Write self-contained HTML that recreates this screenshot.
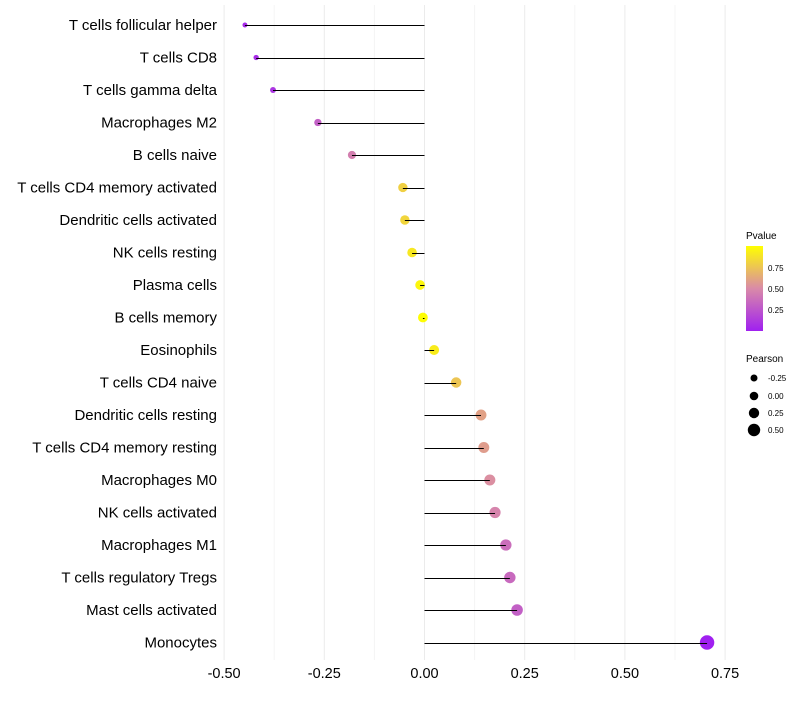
<!DOCTYPE html>
<html><head><meta charset="utf-8"><style>
body{margin:0;background:#fff;font-family:"Liberation Sans",sans-serif}
svg text{font-family:"Liberation Sans",sans-serif}
</style></head><body>
<svg id="chart" width="800" height="700">
<defs><linearGradient id="pg" x1="0" y1="1" x2="0" y2="0">
<stop offset="0" stop-color="#a020f0"/><stop offset="0.5" stop-color="#d98aa8"/><stop offset="1" stop-color="#ffff00"/></linearGradient></defs>
<g id="grid"></g>
<g id="pts"></g>
<g id="marks"></g>
<g id="labels"></g>
<g id="xt"></g>
<g>
<text x="746" y="239" font-size="10" fill="#000">Pvalue</text>
<rect x="746" y="246" width="17" height="85" fill="url(#pg)"/>
<text x="768" y="271" font-size="8">0.75</text><text x="768" y="292" font-size="8">0.50</text><text x="768" y="313" font-size="8">0.25</text>
</g>
<g>
<text x="746" y="362" font-size="10">Pearson</text>
<circle cx="754" cy="378" r="3.5"/><text x="768" y="381" font-size="8">-0.25</text>
<circle cx="754" cy="396" r="4.3"/><text x="768" y="399" font-size="8">0.00</text>
<circle cx="754" cy="413" r="5.2"/><text x="768" y="416" font-size="8">0.25</text>
<circle cx="754" cy="430" r="6.2"/><text x="768" y="433" font-size="8">0.50</text>
</g>
</svg>
<script>
const cells=["T cells follicular helper","T cells CD8","T cells gamma delta","Macrophages M2","B cells naive","T cells CD4 memory activated","Dendritic cells activated","NK cells resting","Plasma cells","B cells memory","Eosinophils","T cells CD4 naive","Dendritic cells resting","T cells CD4 memory resting","Macrophages M0","NK cells activated","Macrophages M1","T cells regulatory  Tregs","Mast cells activated","Monocytes"];
const pearson=[-0.448,-0.42,-0.378,-0.266,-0.181,-0.054,-0.049,-0.031,-0.011,-0.004,0.024,0.079,0.141,0.148,0.163,0.176,0.203,0.213,0.231,0.705];
const pvalue=[0.05,0.06,0.1,0.3,0.45,0.8,0.82,0.9,0.96,0.99,0.92,0.75,0.6,0.58,0.52,0.47,0.37,0.35,0.3,0.0];
const xticks=[-0.5,-0.25,0,0.25,0.5,0.75];
const xtickLabels=["-0.50","-0.25","0.00","0.25","0.50","0.75"];
const NS="http://www.w3.org/2000/svg";
const x=v=>424.5+v*400.8;
const y=i=>25+i*32.5;
const r=v=>Math.sqrt(4+ (v+0.5)*60/1.2*0.8);
function lerp(a,b,t){return a.map((c,k)=>Math.round(c+(b[k]-c)*t));}
function col(p){const A=[160,32,240],M=[217,138,168],B=[255,255,0];const c=p<0.5?lerp(A,M,p/0.5):lerp(M,B,(p-0.5)/0.5);return`rgb(${c})`;}
function el(t,a,parent){const e=document.createElementNS(NS,t);for(const k in a)e.setAttribute(k,a[k]);document.getElementById(parent).appendChild(e);return e;}
for(let v=-0.5;v<=0.751;v+=0.125){
const g=el('line',{x1:x(v),x2:x(v),y1:5,y2:660,stroke:Math.abs(v*4-Math.round(v*4))<1e-6?'#ebebeb':'#f4f4f4','stroke-width':1},'grid');

}
xticks.forEach((v,i)=>{const t=el('text',{x:x(v),y:678,'font-size':14.5,'text-anchor':'middle',fill:'#000'},'xt');t.textContent=xtickLabels[i];

});
cells.forEach((c,i)=>{
const t=el('text',{x:217,y:y(i)+5,'font-size':15,'text-anchor':'end',fill:'#000'},'labels');t.textContent=c;


const p=el('circle',{cx:x(pearson[i]),cy:y(i),r:r(pearson[i]),fill:col(pvalue[i])},'pts');


const yy=Math.round(y(i))+0.5;
const l=el('line',{x1:x(0),x2:x(pearson[i]),y1:yy,y2:yy,stroke:'#000','stroke-width':1},'marks');


});
</script>
</body></html>
